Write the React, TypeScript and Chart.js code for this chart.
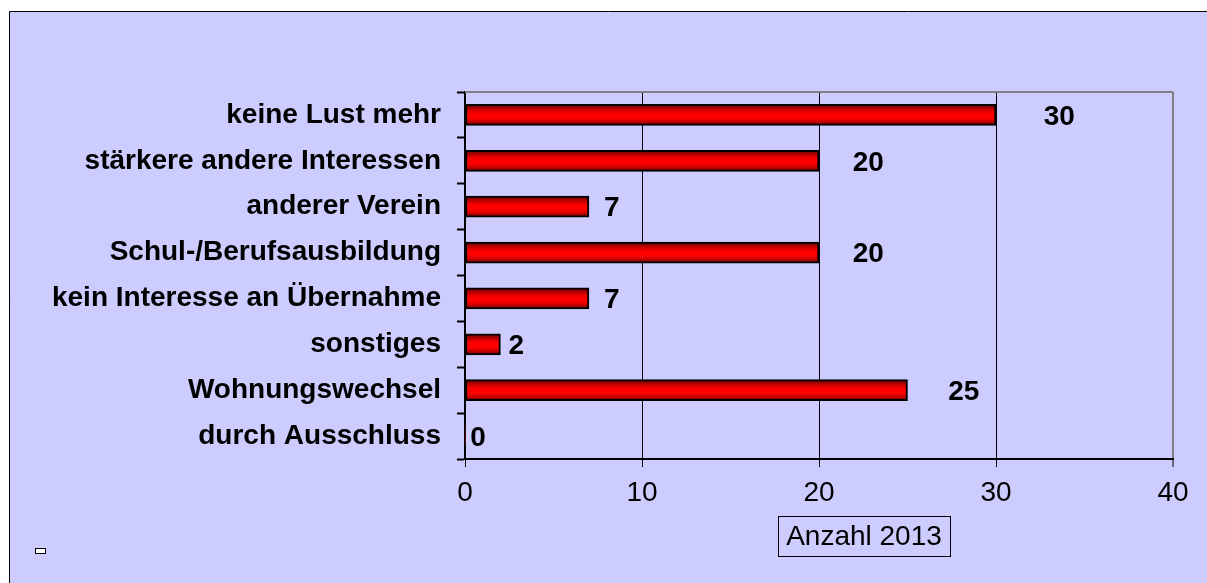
import React, { useEffect, useRef } from "react";
import { Chart, registerables } from "chart.js";

Chart.register(...registerables);

const categories = [
  "keine Lust mehr",
  "stärkere andere Interessen",
  "anderer Verein",
  "Schul-/Berufsausbildung",
  "kein Interesse an Übernahme",
  "sonstiges",
  "Wohnungswechsel",
  "durch Ausschluss",
];
const values2013 = [30, 20, 7, 20, 7, 2, 25, 0];
const seriesLabel = "Anzahl 2013";
const xTicks = [0, 10, 20, 30, 40];

const FONT = "'Liberation Sans', Arial, Helvetica, sans-serif";

export default function App() {
  const ref = useRef<HTMLCanvasElement | null>(null);

  useEffect(() => {
    if (!ref.current) return;

    const backgroundPlugin = {
      id: "panelBg",
      beforeDraw(chart: any) {
        const { ctx, width, height } = chart;
        ctx.save();
        ctx.fillStyle = "#ffffff";
        ctx.fillRect(0, 0, width, height);
        ctx.fillStyle = "#CCCCFF";
        ctx.fillRect(9, 11, width - 9, height - 11);
        ctx.strokeStyle = "#000000";
        ctx.lineWidth = 1;
        ctx.beginPath();
        ctx.moveTo(9.5, height);
        ctx.lineTo(9.5, 11.5);
        ctx.lineTo(width, 11.5);
        ctx.stroke();
        ctx.restore();
      },
      beforeDatasetsDraw(chart: any) {
        const { ctx, chartArea } = chart;
        ctx.save();
        ctx.strokeStyle = "#808080";
        ctx.lineWidth = 2;
        ctx.beginPath();
        ctx.moveTo(chartArea.left, chartArea.top);
        ctx.lineTo(chartArea.right, chartArea.top);
        ctx.stroke();
        ctx.restore();
      },
      afterDraw(chart: any) {
        const { ctx, chartArea } = chart;
        const xs = chart.scales.x;
        const ys = chart.scales.y;
        ctx.save();
        // value labels
        ctx.font = `bold 28px ${FONT}`;
        ctx.fillStyle = "#000";
        ctx.textAlign = "left";
        ctx.textBaseline = "middle";
        values2013.forEach((v, i) => {
          const x = xs.getPixelForValue(v * 1.08 + 0.3);
          const y = ys.getPixelForValue(i) + 2;
          ctx.fillText(String(v), x, y);
        });
        // axis title box
        ctx.font = `28px ${FONT}`;
        const tw = ctx.measureText(seriesLabel).width;
        const cx = (chartArea.left + chartArea.right) / 2 + 45;
        const cy = 536;
        const bw = tw + 16;
        const bh = 40;
        ctx.strokeStyle = "#000";
        ctx.lineWidth = 1;
        ctx.strokeRect(Math.round(cx - bw / 2) + 0.5, Math.round(cy - bh / 2) + 0.5, Math.round(bw), bh);
        ctx.textAlign = "center";
        ctx.fillText(seriesLabel, cx, cy + 1);
        // small legend swatch
        ctx.fillStyle = "#ffffff";
        ctx.fillRect(35, 548, 10, 5);
        ctx.strokeRect(35.5, 548.5, 10, 5);
        ctx.restore();
      },
    };

    const chart = new Chart(ref.current, {
      type: "bar",
      data: {
        labels: categories,
        datasets: [
          {
            label: seriesLabel,
            data: values2013,
            barThickness: 21,
            borderColor: "#000000",
            borderWidth: (c: any) => (values2013[c.dataIndex] === 0 ? 0 : 2),
            borderSkipped: false,
            backgroundColor: (c: any) => {
              const ch = c.chart;
              const ys = ch.scales && ch.scales.y;
              if (!ch.chartArea || !ys) return "#ff0000";
              const yc = ys.getPixelForValue(c.dataIndex);
              const g = ch.ctx.createLinearGradient(0, yc - 10, 0, yc + 10);
              g.addColorStop(0, "#6e0000");
              g.addColorStop(0.3, "#e00000");
              g.addColorStop(0.45, "#ff0000");
              g.addColorStop(0.65, "#ff0000");
              g.addColorStop(0.85, "#c00000");
              g.addColorStop(1, "#6e0000");
              return g;
            },
          },
        ],
      },
      options: {
        indexAxis: "y",
        responsive: false,
        animation: false,
        devicePixelRatio: 1,
        layout: { padding: { left: 0, top: 92, right: 34, bottom: 0 } },
        plugins: {
          legend: { display: false },
          tooltip: { enabled: false },
          title: { display: false },
        },
        scales: {
          x: {
            type: "linear",
            min: 0,
            max: 40,
            afterBuildTicks: (s: any) => {
              s.ticks = xTicks.map((v) => ({ value: v }));
            },
            afterFit: (s: any) => {
              s.height = 124;
            },
            ticks: {
              color: "#000",
              font: { family: FONT, size: 28 },
              padding: 9,
            },
            grid: {
              color: (c: any) =>
                c.tick && c.tick.value === 40 ? "#808080" : c.tick && c.tick.value === 0 ? "rgba(0,0,0,0)" : "#000000",
              lineWidth: (c: any) => (c.tick && c.tick.value === 40 ? 2 : 1),
              tickColor: "#000000",
              tickLength: 8,
              tickWidth: 1,
            },
            border: { display: true, color: "#000000", width: 2 },
          },
          y: {
            type: "category",
            afterFit: (s: any) => {
              s.width = 465;
            },
            ticks: {
              color: "#000",
              font: { family: FONT, size: 28, weight: "bold" },
              padding: 16,
            },
            grid: {
              drawOnChartArea: false,
              drawTicks: true,
              tickLength: 8,
              color: "#000000",
              tickWidth: 2,
            },
            border: { display: true, color: "#000000", width: 2 },
          },
        },
      },
      plugins: [backgroundPlugin],
    } as any);

    return () => chart.destroy();
  }, []);

  return (
    <div style={{ position: "fixed", left: 0, top: 0, width: 1207, height: 583, background: "#fff" }}>
      <canvas ref={ref} width={1207} height={583} style={{ display: "block" }} />
    </div>
  );
}
